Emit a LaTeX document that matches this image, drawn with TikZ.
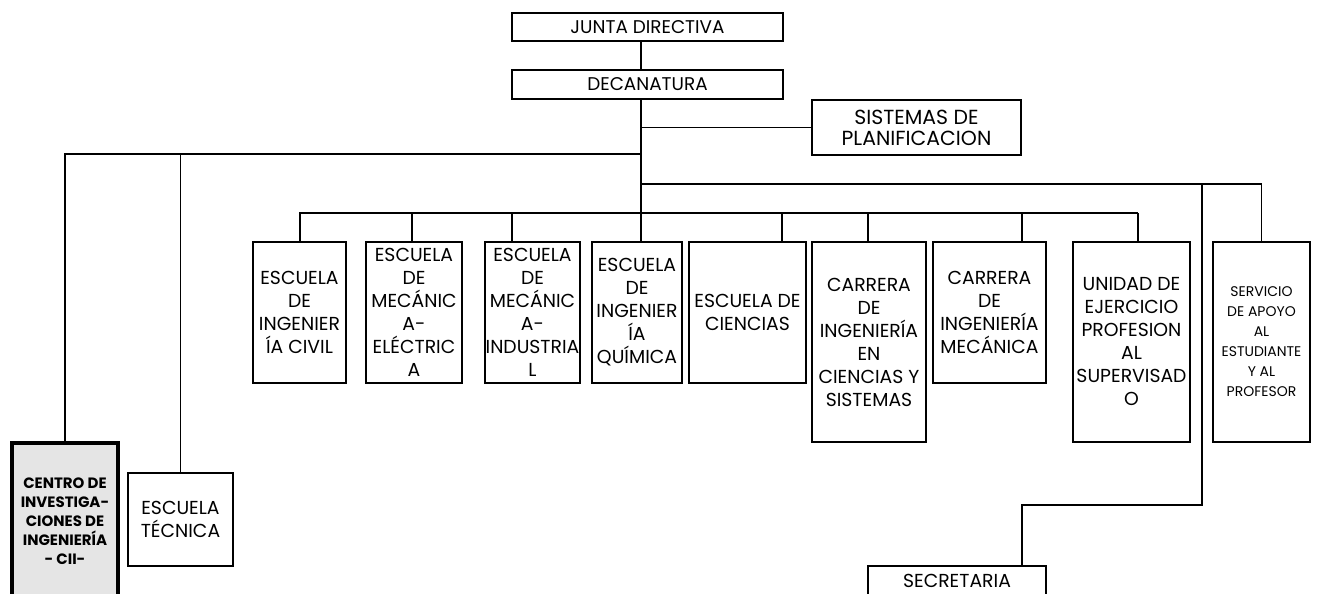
\documentclass[tikz,border=0pt]{standalone}
\usepackage{fontspec}
\setmainfont{Poppins}
\usepackage{tikz}
\newdimen\px
\px=0.5pt

\begin{document}
\begin{tikzpicture}[
  x=0.5pt, y=-0.5pt,
  line width=0.75pt,
  unit/.style={draw, line width=0.8pt, align=center, inner sep=0pt,
    font=\fontsize{9.4}{11.5}\selectfont},
  head/.style={unit, font=\fontsize{9.2}{10.5}\selectfont},
  plan/.style={unit, font=\fontsize{10.2}{10.5}\selectfont},
  small/.style={unit, font=\fontsize{7}{10}\selectfont},
  centro/.style={draw, line width=1.9pt, fill=black!10, align=center, inner sep=0pt,
    font=\fontsize{7.5}{9.5}\selectfont\bfseries}
]
\useasboundingbox (0,0) rectangle (1319,594);

\node[head, minimum width=271\px, minimum height=28\px] (junta) at (647.5,27) {JUNTA DIRECTIVA};
\node[head, minimum width=271\px, minimum height=29\px] (decanatura) at (647.5,84.5) {DECANATURA};
\node[plan, minimum width=209\px, minimum height=55\px] (sistemas) at (916.5,127.5) {SISTEMAS DE\\PLANIFICACION};

\node[centro, minimum width=106\px, minimum height=156\px] (cii) at (65,521) {CENTRO DE\\INVESTIGA-\\CIONES DE\\INGENIERÍA\\- CII-};
\node[unit, minimum width=105\px, minimum height=93\px] (tecnica) at (180.5,519.5) {ESCUELA\\TÉCNICA};

\node[unit, minimum width=93\px, minimum height=141\px] (civil) at (299.5,312.5) {ESCUELA\\DE\\INGENIER\\ÍA CIVIL};
\node[unit, minimum width=96\px, minimum height=141\px] (electrica) at (414,312.5) {ESCUELA\\DE\\MECÁNIC\\A-\\ELÉCTRIC\\A};
\node[unit, minimum width=95\px, minimum height=141\px] (industrial) at (532.5,312.5) {ESCUELA\\DE\\MECÁNIC\\A-\\INDUSTRIA\\L};
\node[unit, minimum width=90\px, minimum height=141\px] (quimica) at (637,312.5) {ESCUELA\\DE\\INGENIER\\ÍA\\QUÍMICA};
\node[unit, minimum width=117\px, minimum height=141\px] (ciencias) at (747.5,312.5) {ESCUELA DE\\CIENCIAS};
\node[unit, minimum width=114\px, minimum height=200\px] (sistemasc) at (869,342) {CARRERA\\DE\\INGENIERÍA\\EN\\CIENCIAS Y\\SISTEMAS};
\node[unit, minimum width=113\px, minimum height=141\px] (mecanica) at (989.5,312.5) {CARRERA\\DE\\INGENIERÍA\\MECÁNICA};
\node[unit, minimum width=117\px, minimum height=200\px] (eps) at (1131.5,342) {UNIDAD DE\\EJERCICIO\\PROFESION\\AL\\SUPERVISAD\\O};
\node[small, minimum width=97\px, minimum height=200\px] (servicio) at (1261.5,342) {SERVICIO\\DE APOYO\\AL\\ESTUDIANTE\\Y AL\\PROFESOR};

\node[unit, minimum width=178\px, minimum height=30\px] (secretaria) at (957,581) {SECRETARIA};

\coordinate (tronco) at (641,213);
\coordinate (izq) at (641,154);
\coordinate (der) at (641,184);
\coordinate (bus1) at (299,213);
\coordinate (bus2) at (1138,213);
\coordinate (sec) at (1202,184);

\draw (junta.south -| tronco) -- (decanatura.north -| tronco);
\draw (decanatura.south -| tronco) -- (tronco);
\draw (sistemas.west -| tronco) -- (sistemas.west);
\draw (izq) -- (izq -| cii.north) -- (cii.north);
\draw (izq -| tecnica.north) -- (tecnica.north);
\draw (der) -- (der -| servicio.north) -- (servicio.north);
\draw (sec) -- (1202,505) -- (1022,505) -- (1022,566);
\draw (bus1) -- (bus2);

\foreach \nodo/\xx in {civil/300, electrica/412, industrial/512, quimica/641,
    ciencias/782, sistemasc/868, mecanica/1022, eps/1138}
  \draw (\xx,213) -- (\xx,213 |- \nodo.north);
\end{tikzpicture}
\end{document}
